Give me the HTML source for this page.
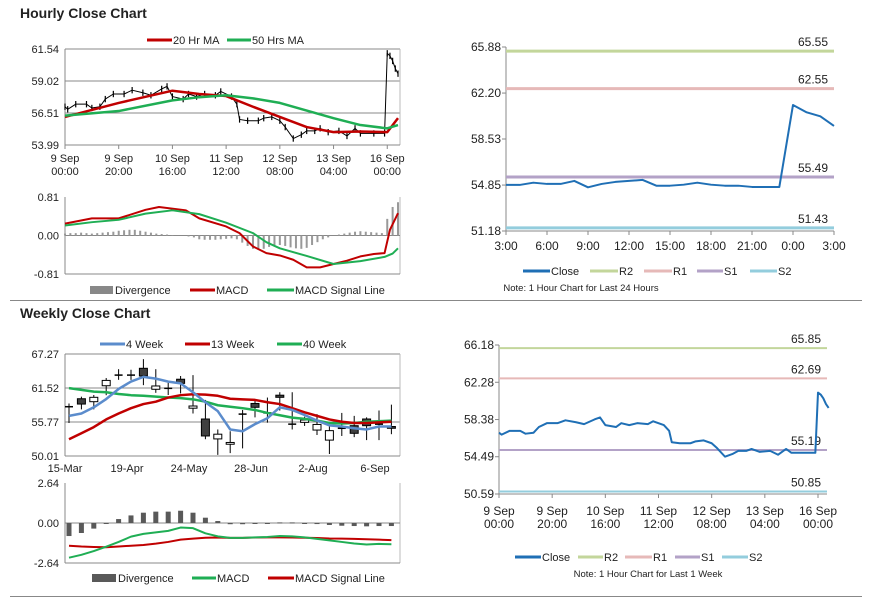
<!DOCTYPE html>
<html><head><meta charset="utf-8"><style>
body{margin:0;background:#fff;font-family:"Liberation Sans",sans-serif}
svg text{font-family:"Liberation Sans",sans-serif;fill:#222}
</style></head><body>
<svg id="s" width="873" height="601" viewBox="0 0 873 601" xmlns="http://www.w3.org/2000/svg"></svg>
<script>
// ===== Hourly data =====
const hourIdx=[0,1,4,8,10,13,15,18,22,25,29,32,36,38,40,44,46,49,52,56,58,62,64,65,68,72,74,77,80,82,85,88,90,93,95,98,102,105,108,110,115,119,120,121,122,123,124];
const hourClose=[57.0,56.8,57.2,57.2,56.9,57.0,57.6,58.0,58.0,58.3,58.1,57.9,58.4,58.6,57.8,57.6,58.0,57.8,58.0,57.9,58.2,57.8,57.2,56.0,55.9,55.9,56.1,56.2,55.9,55.4,54.5,54.8,55.1,55.1,55.3,55.0,55.1,54.7,55.3,54.9,54.9,54.9,61.2,61.0,60.6,60.0,59.6];
const maIdx=[0,20,40,50,60,70,80,90,100,110,120,124];
const ma20=[56.2,57.3,58.26,58.0,57.84,57.0,56.2,55.4,55.0,55.05,55.0,56.1];
const ma50=[56.3,56.66,57.5,57.75,57.9,57.66,57.3,56.7,56.1,55.56,55.3,55.56];
const hTickLabels=[["9 Sep","00:00"],["9 Sep","20:00"],["10 Sep","16:00"],["11 Sep","12:00"],["12 Sep","08:00"],["13 Sep","04:00"],["16 Sep","00:00"]];
const hTickIdx=[0,20,40,60,80,100,120];
const macdIdx=[0,10,20,30,35,45,50,60,65,70,75,80,85,90,95,100,105,110,115,119,121,124];
const hMacd=[0.25,0.36,0.36,0.54,0.6,0.53,0.36,0.19,0.05,-0.23,-0.37,-0.42,-0.51,-0.67,-0.67,-0.6,-0.53,-0.44,-0.39,-0.37,0.12,0.47];
const sigIdx=[0,10,20,30,40,50,60,70,75,80,90,100,110,119,122,124];
const hSignal=[0.21,0.28,0.33,0.46,0.53,0.45,0.27,0.05,-0.14,-0.27,-0.43,-0.6,-0.54,-0.45,-0.38,-0.27];
const hDiv=[0.04,0.05,0.05,0.06,0.05,0.04,0.05,0.06,0.07,0.08,0.1,0.11,0.12,0.12,0.1,0.08,0.06,0.04,0.03,0.02,0.01,0.0,0.0,-0.02,-0.04,-0.08,-0.09,-0.09,-0.09,-0.08,-0.07,-0.06,-0.08,-0.15,-0.22,-0.28,-0.3,-0.28,-0.24,-0.2,-0.2,-0.22,-0.25,-0.27,-0.28,-0.26,-0.2,-0.14,-0.08,-0.04,0.0,0.02,0.04,0.06,0.08,0.09,0.08,0.07,0.06,0.05,0.35,0.6,0.7];
// ===== Weekly data =====
const wOpen=[58.35,59.7,59.2,61.9,63.7,63.7,64.85,61.3,61.46,63.0,58.1,56.27,52.9,52.0,57.1,58.9,57.3,60.3,55.4,55.7,54.4,52.7,54.7,55.14,56.27,55.4,55.0];
const wClose=[58.35,58.8,59.94,62.8,63.7,63.7,63.55,61.86,61.46,62.3,58.47,53.4,53.7,52.3,57.1,58.25,57.3,59.94,55.4,56.1,55.35,54.3,54.7,53.85,55.14,55.4,54.7];
const wHigh=[58.9,60.05,60.33,63.2,64.7,64.6,66.4,64.7,62.4,63.55,63.7,59.5,54.5,54.2,57.8,59.6,59.9,60.8,60.8,56.66,57.1,55.0,57.3,56.8,56.55,57.7,58.7];
const wLow=[55.6,57.9,57.9,60.3,62.9,62.9,62.0,60.7,60.33,60.6,57.2,52.85,50.2,50.5,51.3,56.55,55.65,57.7,54.5,55.1,53.57,50.35,53.4,53.2,52.7,52.7,53.7];
const w4=[56.8,57.2,58.25,59.65,61.35,62.6,63.4,63.1,62.6,62.3,60.8,59.1,57.6,54.5,54.2,55.4,56.4,58.25,57.8,56.95,56.0,55.2,55.0,54.7,54.5,55.0,55.0];
const w13=[52.85,53.85,54.9,56.2,57.2,58.1,58.8,59.2,59.9,60.3,60.45,60.4,60.2,59.7,59.6,59.5,59.1,58.8,58.1,57.4,56.8,56.2,55.8,55.6,55.6,55.7,55.8];
const w40=[61.5,61.2,60.9,60.8,60.5,60.3,60.2,60.05,59.9,59.8,59.6,59.2,58.6,58.35,58.1,57.8,57.3,56.9,56.5,56.3,56.0,55.6,55.5,55.6,55.8,55.9,56.0];
const wTickLabels=["15-Mar","19-Apr","24-May","28-Jun","2-Aug","6-Sep"];
const wDiv=[-0.86,-0.66,-0.37,-0.03,0.26,0.5,0.68,0.75,0.75,0.81,0.68,0.35,0.13,-0.08,-0.08,-0.03,-0.03,0.04,0.04,-0.03,-0.07,-0.13,-0.18,-0.2,-0.22,-0.2,-0.2];
const wMacd=[-2.29,-2.1,-1.85,-1.56,-1.25,-0.9,-0.72,-0.62,-0.52,-0.3,-0.34,-0.68,-0.88,-0.98,-0.98,-0.95,-0.92,-0.86,-0.88,-0.95,-1.05,-1.15,-1.25,-1.35,-1.42,-1.38,-1.4];
const wSignal=[-1.5,-1.55,-1.58,-1.6,-1.55,-1.5,-1.45,-1.36,-1.25,-1.1,-1.03,-0.97,-0.96,-0.98,-0.98,-0.96,-0.95,-0.95,-0.96,-0.97,-0.99,-1.02,-1.03,-1.05,-1.07,-1.1,-1.13];
// ===== Pivot charts =====
const dayLabels=["3:00","6:00","9:00","12:00","15:00","18:00","21:00","0:00","3:00"];
const dayClose=[54.86,54.86,55.04,54.94,54.94,55.18,54.67,54.94,55.1,55.18,55.26,54.8,54.8,54.88,55.04,54.88,54.8,54.8,54.7,54.7,54.7,61.25,60.66,60.34,59.57];
const dayLevels=[65.55,62.55,55.49,51.43];
const weekLevels=[65.85,62.69,55.19,50.85];
const levelNames=["R2","R1","S1","S2"];
const levelColors=["#c3d69b","#e6b9b8","#b3a2c7","#93cddd"];

const S=document.getElementById('s');const NS='http://www.w3.org/2000/svg';
function mk(t,a,p){const e=document.createElementNS(NS,t);for(const k in a)e.setAttribute(k,a[k]);(p||S).appendChild(e);return e;}
function txt(x,y,s,o){o=o||{};const e=mk('text',{x:x,y:y,'font-size':o.fs||11,'text-anchor':o.a||'start','font-weight':o.fw||'normal'});e.textContent=s;return e;}
function lin(d0,d1,r0,r1){return v=>r0+(v-d0)*(r1-r0)/(d1-d0);}
function poly(xs,ys,col,w,name){const e=mk('polyline',{points:xs.map((x,i)=>x+','+ys[i]).join(' '),fill:'none',stroke:col,'stroke-width':w,'stroke-linejoin':'round'});

return e;}
function line(x1,y1,x2,y2,c,w){return mk('line',{x1:x1,y1:y1,x2:x2,y2:y2,stroke:c,'stroke-width':w||1});}
function legLine(x1,x2,y,c,w,label,name){const g=mk('g',{});
mk('line',{x1:x1,y1:y,x2:x2,y2:y,stroke:c,'stroke-width':w},g);const t=mk('text',{x:x2+1,y:y+4,'font-size':11},g);t.textContent=label;}
function legBox(x1,x2,y,c,label,name){const g=mk('g',{});
mk('rect',{x:x1,y:y-4,width:x2-x1,height:8,fill:c},g);const t=mk('text',{x:x2+2,y:y+4,'font-size':11},g);t.textContent=label;}

// titles & separators
let t=txt(20,18,"Hourly Close Chart",{fs:14,fw:'bold'});
t=txt(20,318,"Weekly Close Chart",{fs:14,fw:'bold'});
line(10,300.5,862,300.5,'#888',1);line(10,596.5,862,596.5,'#888',1);

// ===== Hourly price chart =====
{const X=lin(0,124,65,400*0+398),Y=lin(53.99,61.54,145,49);
[61.54,59.02,56.51].forEach(v=>line(65,Y(v),400,Y(v),'#888',1));
line(65,49,65,145,'#888');line(400,49,400,145,'#bbb');line(65,145,400,145,'#888');
[61.54,59.02,56.51,53.99].forEach(v=>txt(59,Y(v)+4,v.toFixed(2),{a:'end'}));
hTickIdx.forEach((k,i)=>{line(X(k),145,X(k),149,'#888');txt(X(k),162,hTickLabels[i][0],{a:'middle'});txt(X(k),175,hTickLabels[i][1],{a:'middle'});});
const g=mk('g',{});
hourIdx.forEach((k,i)=>{mk('line',{x1:X(k),x2:X(k),y1:Y(hourClose[i]+0.25),y2:Y(hourClose[i]-0.25),stroke:'#000','stroke-width':1.2},g);});
poly(hourIdx.map(X),hourClose.map(Y),'#000',1,'hourly-close-line');
poly(maIdx.map(X),ma20.map(Y),'#c00000',2.5,'ma20-line');
poly(maIdx.map(X),ma50.map(Y),'#1fae54',2.5,'ma50-line');
legLine(147,172,40,'#c00000',3,'20 Hr MA','legend-20hr-ma');legLine(227,251,40,'#1fae54',3,'50 Hrs MA','legend-50hrs-ma');}

// ===== Hourly MACD =====
{const X=lin(0,124,65,398),Y=lin(-0.81,0.81,274,197);
line(65,197,65,274,'#888');line(400,197,400,274,'#bbb');line(65,274,400,274,'#888');line(65,Y(0),400,Y(0),'#888');
[0.81,0,-0.81].forEach(v=>txt(59,Y(v)+4,v.toFixed(2),{a:'end'}));
const g=mk('g',{});
hDiv.forEach((v,i)=>{const y0=Y(0),y1=Y(v);mk('rect',{x:X(i*2)-1,y:Math.min(y0,y1),width:2,height:Math.abs(y1-y0),fill:'#999'},g);});
poly(macdIdx.map(X),hMacd.map(Y),'#c00000',2,'hourly-macd-line');
poly(sigIdx.map(X),hSignal.map(Y),'#1fae54',2,'hourly-signal-line');
legBox(90,113,290,'#888','Divergence','legend-divergence');legLine(190,215,290,'#c00000',3,'MACD','legend-macd');legLine(267,294,290,'#1fae54',3,'MACD Signal Line','legend-signal');}

// ===== Weekly candles =====
{const X=i=>69+12.4*i,Y=lin(50.01,67.27,456,354);
[67.27,61.52,55.77].forEach(v=>line(65,Y(v),400,Y(v),'#888',1));
line(65,354,65,456,'#888');line(400,354,400,456,'#bbb');line(65,456,400,456,'#888');
[67.27,61.52,55.77,50.01].forEach(v=>txt(59,Y(v)+4,v.toFixed(2),{a:'end'}));
wTickLabels.forEach((s,i)=>txt(65+62*i,472,s,{a:'middle'}));
const g=mk('g',{});
wOpen.forEach((o,i)=>{const c=wClose[i],x=X(i);mk('line',{x1:x,x2:x,y1:Y(wHigh[i]),y2:Y(wLow[i]),stroke:'#000','stroke-width':1},g);
 if(Math.abs(o-c)<0.05){mk('line',{x1:x-4,x2:x+4,y1:Y(o),y2:Y(o),stroke:'#000','stroke-width':1.5},g);}
 else{const top=Y(Math.max(o,c)),bot=Y(Math.min(o,c));mk('rect',{x:x-4,y:top,width:8,height:bot-top,fill:c<o?'#404040':'#fff',stroke:'#000','stroke-width':1},g);}});
poly(wOpen.map((_,i)=>X(i)),w40.map(Y),'#1fae54',2.5,'ma-40-week');
poly(wOpen.map((_,i)=>X(i)),w13.map(Y),'#c00000',2.5,'ma-13-week');
poly(wOpen.map((_,i)=>X(i)),w4.map(Y),'#5b8ccc',2.5,'ma-4-week');
legLine(100,125,344,'#5b8ccc',3,'4 Week','legend-4-week');legLine(185,210,344,'#c00000',3,'13 Week','legend-13-week');legLine(277,302,344,'#1fae54',3,'40 Week','legend-40-week');}

// ===== Weekly MACD =====
{const X=i=>69+12.4*i,Y=lin(-2.64,2.64,563,483);
line(65,483,65,563,'#888');line(400,483,400,563,'#bbb');line(65,563,400,563,'#888');line(65,Y(0),400,Y(0),'#888');
[2.64,0,-2.64].forEach(v=>txt(59,Y(v)+4,v.toFixed(2),{a:'end'}));
const g=mk('g',{});
wDiv.forEach((v,i)=>{const y0=Y(0),y1=Y(v);mk('rect',{x:X(i)-2.5,y:Math.min(y0,y1),width:5,height:Math.max(1,Math.abs(y1-y0)),fill:'#595959'},g);});
poly(wDiv.map((_,i)=>X(i)),wSignal.map(Y),'#c00000',2,'weekly-signal-line');
poly(wDiv.map((_,i)=>X(i)),wMacd.map(Y),'#1fae54',2,'weekly-macd-line');
legBox(92,116,578,'#595959','Divergence','legend-w-divergence');legLine(192,216,578,'#1fae54',3,'MACD','legend-w-macd');legLine(268,294,578,'#c00000',3,'MACD Signal Line','legend-w-signal');}

// ===== Pivot chart helper =====
function pivot(o){const Y=lin(o.ymin,o.ymax,o.y1,o.y0);
line(o.x0,o.y0,o.x0,o.y1,'#888');line(o.x0,o.y1,o.x1,o.y1,'#888');
o.ticks.forEach(v=>{line(o.x0-4,Y(v),o.x0,Y(v),'#888');txt(o.x0-5,Y(v)+4,v.toFixed(2),{a:'end',fs:12});});
o.levels.forEach((v,i)=>{const l=line(o.x0,Y(v),o.x1,Y(v),levelColors[i],o.lw);
 txt(o.x1-6,Y(v)-5,v.toFixed(2),{a:'end',fs:12});});
const X=o.X;poly(o.idx.map(X),o.vals.map(Y),'#1f6fb5',2,o.name);
legLine(o.lg[0],o.lg[1],o.ly,'#1f6fb5',3,'Close','legend-close');
levelNames.forEach((n,i)=>legLine(o.lg[2+2*i],o.lg[3+2*i],o.ly,levelColors[i],3,n,'legend-'+n.toLowerCase()));
txt(o.nx,o.ly+20,o.note,{a:'middle',fs:9.5});}
// top right
{const X=lin(0,24,506,834);
dayLabels.forEach((s,i)=>{line(X(i*3),231,X(i*3),235,'#888');txt(X(i*3),250,s,{a:'middle',fs:12});});
pivot({x0:506,x1:834,y0:47,y1:231,ymin:51.18,ymax:65.88,ticks:[65.88,62.20,58.53,54.85,51.18],levels:dayLevels,lw:3,X:X,idx:dayClose.map((_,i)=>i),vals:dayClose,name:'day-close-line',ly:271,lg:[523,550,590,618,644,672,697,723,750,777],nx:581,note:'Note: 1 Hour Chart for Last 24 Hours'});}
// bottom right
{const X=lin(0,120,499,818);
hTickIdx.forEach((k,i)=>{line(X(k),494,X(k),498,'#888');txt(X(k),515,hTickLabels[i][0],{a:'middle',fs:12});txt(X(k),528,hTickLabels[i][1],{a:'middle',fs:12});});
pivot({x0:499,x1:827,y0:345,y1:494,ymin:50.59,ymax:66.18,ticks:[66.18,62.28,58.38,54.49,50.59],levels:weekLevels,lw:2,X:X,idx:hourIdx,vals:hourClose,name:'week-close-line',ly:557,lg:[515,541,578,603,625,652,675,700,722,748],nx:648,note:'Note: 1 Hour Chart for Last 1 Week'});}
</script>
</body></html>
